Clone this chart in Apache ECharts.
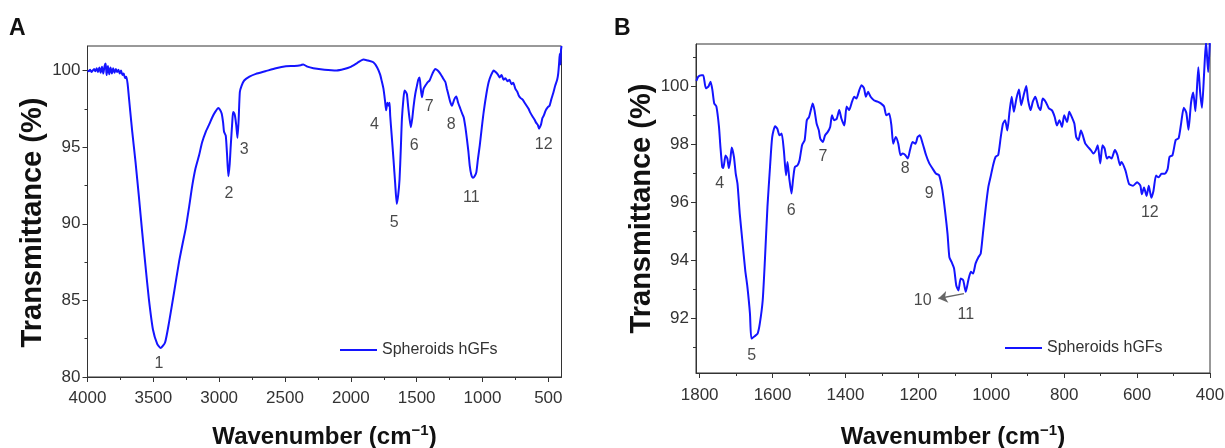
<!DOCTYPE html>
<html>
<head>
<meta charset="utf-8">
<script src="https://cdn.jsdelivr.net/npm/echarts@6/dist/echarts.min.js"></script>
<style>
  html, body { margin: 0; padding: 0; background: #fff; }
  #main { width: 1225px; height: 448px; }
</style>
</head>
<body>
<div id="main"></div>
<script>
// panel A: full spectrum 4000-400
var wavenumberA = [4000, 3990, 3980, 3970, 3960, 3950, 3940, 3930, 3920, 3910, 3900, 3890, 3880, 3870, 3862, 3855, 3845, 3835, 3825, 3815, 3805, 3795, 3785, 3775, 3765, 3755, 3745, 3735, 3725, 3715, 3705, 3695, 3686, 3675, 3660, 3635, 3610, 3584, 3559, 3534, 3503, 3470, 3444, 3411, 3381, 3343, 3305, 3280, 3254, 3230, 3204, 3180, 3153, 3130, 3102, 3075, 3052, 3030, 3006, 2995, 2981, 2970, 2963, 2950, 2940, 2930, 2920, 2912, 2900, 2894, 2885, 2879, 2870, 2861, 2852, 2843, 2830, 2810, 2770, 2721, 2650, 2569, 2493, 2430, 2380, 2361, 2330, 2285, 2200, 2107, 2050, 2006, 1950, 1905, 1870, 1829, 1800, 1778, 1765, 1752, 1740, 1732, 1722, 1714, 1706, 1701, 1690, 1676, 1663, 1651, 1640, 1630, 1620, 1612, 1600, 1592, 1582, 1574, 1564, 1554, 1544, 1533, 1523, 1510, 1498, 1488, 1478, 1470, 1460, 1448, 1435, 1420, 1402, 1380, 1359, 1340, 1321, 1300, 1282, 1270, 1257, 1245, 1232, 1215, 1199, 1185, 1168, 1155, 1143, 1130, 1118, 1107, 1097, 1085, 1072, 1060, 1047, 1035, 1021, 1005, 991, 970, 953, 935, 915, 900, 884, 870, 855, 840, 826, 810, 795, 780, 767, 750, 735, 724, 710, 695, 680, 665, 650, 637, 620, 605, 593, 580, 570, 564, 555, 545, 535, 520, 505, 491, 478, 462, 448, 433, 425, 418, 413, 408, 404, 400];
var transA = [100.0, 99.95, 100.05, 99.9, 100.0, 100.1, 99.95, 100.15, 99.9, 100.2, 99.85, 100.25, 99.8, 100.3, 100.45, 99.7, 100.3, 99.75, 100.2, 99.8, 100.15, 99.85, 100.1, 99.9, 100.05, 99.8, 100.0, 99.7, 99.8, 99.5, 99.6, 99.1, 98.3, 97.3, 96.0, 94.0, 91.8, 89.4, 87.2, 85.1, 83.1, 82.15, 81.9, 82.25, 83.55, 85.5, 87.5, 88.6, 89.7, 91.0, 92.5, 93.6, 94.45, 95.3, 96.0, 96.5, 96.95, 97.3, 97.55, 97.45, 97.2, 96.6, 96.0, 95.75, 94.5, 93.1, 93.9, 95.1, 96.7, 97.3, 97.2, 97.0, 96.4, 95.6, 96.8, 98.6, 99.0, 99.35, 99.6, 99.78, 99.95, 100.15, 100.28, 100.3, 100.35, 100.4, 100.25, 100.15, 100.05, 100.0, 100.1, 100.22, 100.5, 100.72, 100.65, 100.54, 100.2, 99.75, 99.3, 98.8, 98.0, 97.4, 97.9, 97.7, 97.9, 97.05, 95.8, 94.2, 92.6, 91.3, 91.9, 92.9, 95.0, 96.85, 98.2, 98.7, 98.6, 98.45, 97.6, 96.85, 96.3, 96.9, 97.7, 98.5, 99.0, 99.4, 99.55, 98.9, 98.25, 98.8, 99.0, 99.2, 99.35, 99.8, 100.1, 100.0, 99.8, 99.5, 99.25, 98.8, 98.35, 97.95, 97.7, 98.1, 98.3, 97.9, 97.5, 97.2, 96.95, 96.3, 95.5, 94.7, 93.8, 93.2, 93.0, 93.1, 93.35, 94.2, 95.1, 96.3, 97.3, 98.5, 99.25, 99.7, 100.0, 99.9, 99.75, 99.55, 99.7, 99.4, 99.5, 99.3, 99.4, 99.1, 99.2, 98.8, 98.6, 98.35, 98.2, 98.1, 97.9, 97.7, 97.5, 97.25, 97.0, 96.8, 96.6, 96.45, 96.2, 96.3, 96.5, 96.9, 97.05, 97.4, 97.6, 97.7, 98.1, 98.55, 99.0, 99.4, 99.8, 100.5, 101.1, 100.4, 101.3, 101.6];

// panel B: fingerprint region 1810-400
var wavenumberB = [1809, 1804, 1795, 1790, 1783, 1776, 1770, 1765, 1760, 1754, 1747, 1743, 1738, 1735, 1729, 1724, 1720, 1716, 1712, 1706, 1701, 1696, 1690, 1683, 1675, 1669, 1662, 1658, 1649, 1641, 1635, 1627, 1621, 1614, 1607, 1601, 1593, 1587, 1581, 1575, 1569, 1563, 1559, 1554, 1548, 1544, 1539, 1532, 1526, 1519, 1512, 1506, 1500, 1494, 1490, 1485, 1479, 1473, 1469, 1462, 1456, 1449, 1442, 1437, 1431, 1424, 1417, 1411, 1403, 1397, 1390, 1382, 1376, 1370, 1362, 1356, 1349, 1344, 1338, 1331, 1322, 1312, 1303, 1294, 1288, 1280, 1274, 1269, 1262, 1255, 1249, 1243, 1236, 1229, 1223, 1216, 1208, 1202, 1196, 1188, 1179, 1170, 1161, 1152, 1143, 1134, 1126, 1120, 1115, 1109, 1102, 1096, 1090, 1084, 1077, 1070, 1063, 1056, 1050, 1043, 1035, 1029, 1023, 1015, 1008, 1002, 995, 988, 981, 974, 968, 962, 956, 950, 944, 938, 931, 924, 918, 911, 904, 899, 892, 886, 879, 871, 865, 859, 851, 842, 833, 826, 820, 813, 806, 800, 792, 786, 779, 772, 767, 761, 754, 749, 742, 735, 727, 720, 713, 708, 701, 695, 689, 683, 677, 670, 661, 654, 647, 643, 632, 622, 611, 600, 591, 587, 581, 574, 568, 561, 555, 548, 541, 533, 524, 516, 511, 503, 494, 486, 479, 472, 465, 459, 452, 446, 440, 432, 427, 422, 416, 411, 405, 400];
var transB = [100.18, 100.32, 100.37, 100.37, 99.92, 99.98, 100.15, 99.86, 99.4, 99.29, 98.6, 97.9, 97.2, 97.17, 97.6, 97.5, 97.17, 97.44, 97.88, 97.56, 96.98, 96.61, 95.6, 94.68, 93.65, 93.07, 92.15, 91.29, 91.37, 91.46, 91.8, 92.61, 93.99, 95.83, 97.2, 98.24, 98.61, 98.53, 98.3, 98.36, 97.78, 96.92, 97.38, 96.8, 96.29, 96.75, 97.2, 97.26, 97.44, 97.96, 98.13, 98.82, 98.93, 99.22, 99.4, 99.17, 98.7, 98.47, 98.18, 98.07, 98.3, 98.41, 98.59, 98.99, 98.82, 98.87, 99.17, 98.87, 98.64, 99.29, 99.17, 99.46, 99.63, 99.57, 99.86, 100.03, 99.92, 99.63, 99.8, 99.63, 99.51, 99.46, 99.4, 99.29, 98.99, 99.05, 98.64, 98.01, 98.24, 98.01, 97.61, 97.67, 97.62, 97.5, 97.79, 98.07, 98.01, 98.24, 98.3, 98.01, 97.62, 97.33, 97.15, 96.98, 96.92, 96.4, 95.6, 94.9, 94.1, 93.93, 93.7, 93.12, 92.95, 93.36, 93.3, 92.9, 93.3, 93.59, 93.53, 93.88, 94.1, 94.22, 94.9, 95.83, 96.52, 96.86, 97.27, 97.56, 97.62, 98.24, 98.7, 98.82, 98.47, 99.11, 99.63, 99.11, 99.57, 99.88, 99.34, 99.69, 100.0, 99.51, 99.17, 99.46, 99.63, 99.29, 99.17, 99.57, 99.46, 99.23, 99.15, 98.93, 98.64, 98.82, 98.59, 98.99, 98.76, 99.11, 98.93, 98.7, 98.24, 98.13, 98.47, 98.3, 98.01, 97.9, 97.79, 97.67, 97.79, 97.96, 97.33, 97.96, 97.84, 97.5, 97.56, 97.5, 97.79, 97.62, 97.27, 97.38, 97.09, 96.62, 96.56, 96.68, 96.56, 96.27, 96.5, 96.21, 96.56, 96.15, 96.39, 96.91, 96.85, 96.97, 96.97, 97.15, 97.56, 97.61, 98.14, 98.2, 98.73, 99.25, 99.08, 98.49, 99.43, 99.78, 99.13, 100.65, 99.78, 99.25, 100.48, 101.53, 100.48, 101.65];

// peak numbers: [wavenumber, transmittance, text]
var peaksA = [[3457, 80.85, '1'], [2925, 91.95, '2'], [2810, 94.85, '3'], [1821, 96.45, '4'], [1671, 90.1, '5'],
  [1519, 95.1, '6'], [1405, 97.65, '7'], [1237, 96.45, '8'], [1085, 91.7, '11'], [535, 95.15, '12']];
var peaksB = [[1745, 96.65, '4'], [1657, 90.7, '5'], [1549, 95.7, '6'], [1462, 97.55, '7'], [1236, 97.15, '8'],
  [1170, 96.3, '9'], [1188, 92.6, '10'], [1070, 92.12, '11'], [565, 95.63, '12']];
var arrowB = [[1075, 92.84], [1145, 92.67]];

var xTicksA = [4000, 3500, 3000, 2500, 2000, 1500, 1000, 500];
var xMinorA = [3750, 3250, 2750, 2250, 1750, 1250, 750];
var yTicksA = [80, 85, 90, 95, 100];
var yMinorA = [82.5, 87.5, 92.5, 97.5];
var xTicksB = [1800, 1600, 1400, 1200, 1000, 800, 600, 400];
var xMinorB = [1700, 1500, 1300, 1100, 900, 700, 500];
var yTicksB = [92, 94, 96, 98, 100];
var yMinorB = [91, 93, 95, 97, 99, 101];

var seriesName = 'Spheroids hGFs';
var blue = '#1414ff';
var font = 'Liberation Sans, Arial, sans-serif';

function zip(xs, ys) {
  return xs.map(function (x, i) { return [x, ys[i]]; });
}
function plain(v) { return String(v); }

function mainX(grid, min, max, ticks, title, gap, margin) {
  return {
    type: 'value', gridIndex: grid, min: min, max: max, inverse: true, position: 'bottom',
    axisLine: { show: true, lineStyle: { color: '#333', width: 1 } },
    axisTick: { show: true, customValues: ticks, length: 5, lineStyle: { color: '#333' } },
    axisLabel: { customValues: ticks, formatter: plain, fontSize: 17, color: '#333', fontFamily: font, margin: margin },
    splitLine: { show: false },
    name: title, nameLocation: 'middle', nameGap: gap,
    nameTextStyle: {
      fontSize: 24, fontWeight: 'bold', color: '#111', fontFamily: font,
      rich: { sup: { fontSize: 15, fontWeight: 'bold', color: '#111', fontFamily: font, verticalAlign: 'top', padding: [0, 0, 14, 0] } }
    }
  };
}
function minorX(grid, min, max, ticks) {
  return {
    type: 'value', gridIndex: grid, min: min, max: max, inverse: true, position: 'bottom',
    axisLine: { show: false },
    axisTick: { show: true, customValues: ticks, length: 3, lineStyle: { color: '#333' } },
    axisLabel: { show: false }, splitLine: { show: false }
  };
}
function mainY(grid, min, max, ticks, shift) {
  return {
    type: 'value', gridIndex: grid, min: min, max: max, position: 'left',
    axisLine: { show: true, lineStyle: { color: '#333', width: 1 } },
    axisTick: { show: true, customValues: ticks, length: 5, lineStyle: { color: '#333' } },
    axisLabel: { customValues: ticks, formatter: plain, fontSize: 17, color: '#333', fontFamily: font, margin: 7 },
    splitLine: { show: false },
    name: 'Transmittance (%)', nameLocation: 'middle', nameGap: 40, nameRotate: 90,
    nameTextStyle: { fontSize: 29, fontWeight: 'bold', color: '#111', fontFamily: font, padding: [0, shift, 0, 0] }
  };
}
function minorY(grid, min, max, ticks) {
  return {
    type: 'value', gridIndex: grid, min: min, max: max, position: 'left',
    axisLine: { show: false },
    axisTick: { show: true, customValues: ticks, length: 3, lineStyle: { color: '#333' } },
    axisLabel: { show: false }, splitLine: { show: false }
  };
}
function peakSeries(x, y, peaks) {
  return {
    type: 'scatter', xAxisIndex: x, yAxisIndex: y, silent: true, symbolSize: 1,
    itemStyle: { color: 'transparent' },
    label: { show: true, position: 'inside', fontSize: 16, color: '#1a1a1a', fontFamily: font,
      formatter: function (p) { return p.data.name; } },
    data: peaks.map(function (d) { return { name: d[2], value: [d[0], d[1]] }; })
  };
}

var xTitle = 'Wavenumber (cm{sup|\u22121})';

var chart = echarts.init(document.getElementById('main'));
var option = {
  animation: false,
  backgroundColor: '#fff',
  graphic: [
    { type: 'text', left: 9, top: 17, style: { text: 'A', font: 'bold 23px ' + font, fill: '#111' } },
    { type: 'text', left: 614, top: 17, style: { text: 'B', font: 'bold 23px ' + font, fill: '#111' } }
  ],
  legend: [
    { left: 335, top: 337, itemWidth: 37, itemHeight: 2, itemGap: 5, icon: 'rect',
      textStyle: { fontSize: 16, color: '#333', fontFamily: font }, data: [seriesName] },
    { left: 1000, top: 335, itemWidth: 37, itemHeight: 2, itemGap: 5, icon: 'rect',
      textStyle: { fontSize: 16, color: '#333', fontFamily: font }, data: [seriesName] }
  ],
  grid: [
    { left: 87.5, top: 46, width: 474, height: 331, show: true, borderColor: '#333', borderWidth: 1,
      backgroundColor: 'transparent', containLabel: false, outerBoundsMode: 'none' },
    { left: 696, top: 44, width: 514, height: 329, show: true, borderColor: '#333', borderWidth: 1,
      backgroundColor: 'transparent', containLabel: false, outerBoundsMode: 'none' }
  ],
  xAxis: [
    mainX(0, 400, 4000, xTicksA, xTitle, 46, 13),
    minorX(0, 400, 4000, xMinorA),
    mainX(1, 400, 1810, xTicksB, xTitle, 50, 14),
    minorX(1, 400, 1810, xMinorB)
  ],
  yAxis: [
    mainY(0, 80, 101.6, yTicksA, 22),
    minorY(0, 80, 101.6, yMinorA),
    mainY(1, 90.1, 101.45, yTicksB, 0),
    minorY(1, 90.1, 101.45, yMinorB)
  ],
  series: [
    {
      name: seriesName, type: 'line', xAxisIndex: 0, yAxisIndex: 0, showSymbol: false, smooth: 0.2,
      lineStyle: { color: blue, width: 2 }, itemStyle: { color: blue },
      data: zip(wavenumberA, transA)
    },
    {
      name: seriesName, type: 'line', xAxisIndex: 2, yAxisIndex: 2, showSymbol: false, smooth: 0.2,
      lineStyle: { color: blue, width: 2 }, itemStyle: { color: blue },
      data: zip(wavenumberB, transB)
    },
    peakSeries(0, 0, peaksA),
    Object.assign(peakSeries(2, 2, peaksB), {
      markLine: {
        silent: true, symbol: ['none', 'arrow'], symbolSize: 9,
        lineStyle: { color: '#666', width: 1.3, type: 'solid' }, label: { show: false },
        emphasis: { disabled: true },
        data: [[{ coord: arrowB[0] }, { coord: arrowB[1] }]]
      }
    })
  ]
};
chart.setOption(option);
</script>
</body>
</html>
